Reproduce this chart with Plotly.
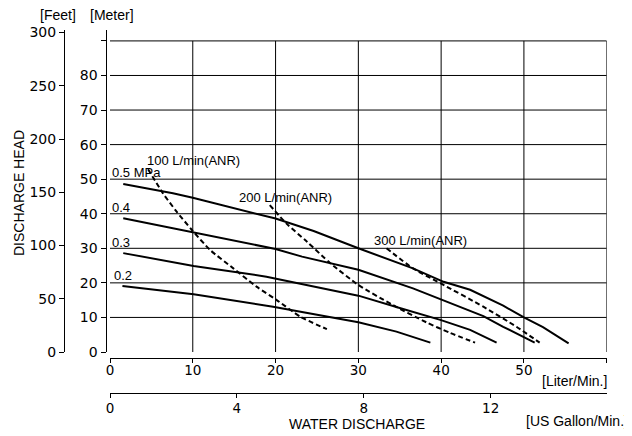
"""Discharge head vs. water discharge chart for an air-operated double diaphragm pump."""
import plotly.graph_objects as go

# Solid curves: supply air pressure (flow in L/min, head in m)
PRESSURE_NAMES = ["0.5 MPa", "0.4", "0.3", "0.2"]
FLOW_05 = [1.6, 7.6, 10.0, 20.0, 24.6, 30.0, 36.6, 40.3, 43.5, 47.5, 50.0, 52.3, 55.4]
HEAD_05 = [48.6, 45.9, 44.6, 38.6, 35.0, 30.0, 24.2, 20.3, 18.0, 13.4, 10.0, 7.2, 2.5]
FLOW_04 = [1.6, 8.7, 20.0, 23.2, 30.0, 36.6, 39.9, 45.1, 47.5, 51.3]
HEAD_04 = [38.7, 35.3, 29.8, 27.6, 23.8, 18.4, 15.3, 10.4, 7.3, 2.7]
FLOW_03 = [1.6, 10.1, 18.9, 24.6, 30.0, 35.2, 39.9, 43.5, 46.7]
HEAD_03 = [28.6, 24.9, 21.8, 18.9, 16.3, 12.6, 9.3, 6.4, 2.7]
FLOW_02 = [1.5, 10.1, 19.7, 26.6, 30.0, 34.6, 38.7]
HEAD_02 = [19.1, 16.7, 13.1, 10.2, 8.6, 5.9, 2.7]

# Dashed curves: air consumption
AIR_NAMES = ["100 L/min(ANR)", "200 L/min(ANR)", "300 L/min(ANR)"]
FLOW_AIR100 = [4.6, 6.4, 8.05, 9.9, 12.1, 14.9, 17.7, 20.1, 23.0, 26.2]
HEAD_AIR100 = [52.9, 45.9, 40.6, 35.3, 29.5, 24.2, 18.9, 15.1, 10.2, 6.6]
FLOW_AIR200 = [19.3, 21.3, 23.8, 26.6, 30.0, 34.0, 38.2, 41.0, 44.1]
HEAD_AIR200 = [42.5, 37.2, 31.9, 25.7, 19.4, 13.8, 8.6, 5.6, 2.7]
FLOW_AIR300 = [33.4, 36.6, 39.9, 45.1, 49.1, 51.9]
HEAD_AIR300 = [30.0, 24.2, 19.9, 13.1, 7.3, 2.7]

# Axes
LPM_TICKS = [0, 10, 20, 30, 40, 50, 60]
LPM_TICK_TEXT = ["0", "10", "20", "30", "40", "50", ""]
GPM_TICKS = [0, 4, 8, 12]
METER_TICKS = [0, 10, 20, 30, 40, 50, 60, 70, 80, 90]
METER_TICK_TEXT = ["0", "10", "20", "30", "40", "50", "60", "70", "80", ""]
FEET_TICKS = [0, 50, 100, 150, 200, 250, 300]

LITERS_PER_GALLON = 3.832  # as drawn on the original sheet
METER_TOP = 93.3
FEET_TOP = 302.9

# the page body keeps its default 8px margin, so the figure is shrunk by it
PAGE_PAD = 8
W, H = 632 - PAGE_PAD, 436 - PAGE_PAD
TEXT_FONT = "Liberation Sans, Arial, sans-serif"
TICK_FONT = dict(family="DejaVu Sans, sans-serif", size=14, color="black")
X_TICK_FONT = dict(family="DejaVu Sans, sans-serif", size=13.5, color="black")


def px_x(v):
    """Window pixel column -> paper fraction."""
    return (v - PAGE_PAD) / W


def px_y(v):
    """Window pixel row -> paper fraction."""
    return 1 - (v - PAGE_PAD) / H


fig = go.Figure()

solid = [
    (FLOW_05, HEAD_05),
    (FLOW_04, HEAD_04),
    (FLOW_03, HEAD_03),
    (FLOW_02, HEAD_02),
]
for name, (flow, head) in zip(PRESSURE_NAMES, solid):
    fig.add_trace(go.Scatter(x=flow, y=head, mode="lines", name=name,
                             line=dict(color="black", width=2)))

dashed = [
    (FLOW_AIR100, HEAD_AIR100),
    (FLOW_AIR200, HEAD_AIR200),
    (FLOW_AIR300, HEAD_AIR300),
]
for name, (flow, head) in zip(AIR_NAMES, dashed):
    fig.add_trace(go.Scatter(x=flow, y=head, mode="lines", name=name,
                             line=dict(color="black", width=2, dash="5px,3px"),
                             line_shape="spline", line_smoothing=0.6))

# keeps the secondary axes (US gallon, feet) alive
fig.add_trace(go.Scatter(x=[None], y=[None], xaxis="x2", yaxis="y2",
                         showlegend=False, hoverinfo="skip"))

# grid drawn inside the 0-60 L/min x 0-90 m box only
grid = dict(type="line", xref="x", yref="y", line=dict(color="black", width=1), layer="below")
for v in LPM_TICKS[1:]:
    fig.add_shape(x0=v, x1=v, y0=0, y1=METER_TICKS[-1], **grid)
for v in METER_TICKS[1:]:
    fig.add_shape(x0=0, x1=LPM_TICKS[-1], y0=v, y1=v, **grid)

axis_common = dict(showline=True, linecolor="black", linewidth=1, ticks="outside",
                   ticklen=5, tickcolor="black", tickwidth=1, showgrid=False,
                   zeroline=False, tickfont=TICK_FONT, automargin=False)
x_axis_common = {**axis_common, "ticklen": 4, "tickfont": X_TICK_FONT}

fig.update_layout(
    width=W,
    height=H,
    margin=dict(l=0, r=0, t=0, b=0, pad=0, autoexpand=False),
    paper_bgcolor="white",
    plot_bgcolor="white",
    showlegend=False,
    xaxis=dict(domain=[px_x(110), px_x(606.7)], range=[0, LPM_TICKS[-1]],
               anchor="free", position=px_y(357.7), tickvals=LPM_TICKS,
               ticktext=LPM_TICK_TEXT, ticklabelstandoff=-4, **x_axis_common),
    xaxis2=dict(overlaying="x", side="bottom", anchor="free", position=px_y(393.3),
                range=[0, LPM_TICKS[-1] / LITERS_PER_GALLON], tickvals=GPM_TICKS,
                ticklabelstandoff=-2, **x_axis_common),
    yaxis=dict(domain=[px_y(352), px_y(29.5)], range=[0, METER_TOP], anchor="free",
               position=px_x(105.5), tickvals=METER_TICKS, ticktext=METER_TICK_TEXT,
               **axis_common),
    yaxis2=dict(overlaying="y", side="left", anchor="free", position=px_x(64),
                range=[0, FEET_TOP], tickvals=FEET_TICKS, **axis_common),
)


def label(text, x, y, size=13, xref="x", yref="y", xanchor="left", angle=0):
    fig.add_annotation(text=text, x=x, y=y, xref=xref, yref=yref, xanchor=xanchor,
                       yanchor="middle", showarrow=False, textangle=angle,
                       font=dict(family=TEXT_FONT, size=size, color="black"))


# curve labels
label(PRESSURE_NAMES[0], 0.0, 51.8)
label(PRESSURE_NAMES[1], 0.0, 41.8)
label(PRESSURE_NAMES[2], 0.0, 31.8)
label(PRESSURE_NAMES[3], 0.2, 22.0)
label(AIR_NAMES[0], 4.2, 55.4)
label(AIR_NAMES[1], 15.3, 44.7)
label(AIR_NAMES[2], 31.6, 32.3)

# axis titles
label("[Feet]", px_x(58), px_y(15), size=14, xref="paper", yref="paper", xanchor="center")
label("[Meter]", px_x(112), px_y(15), size=14, xref="paper", yref="paper", xanchor="center")
label("[Liter/Min.]", px_x(609), px_y(381), size=14, xref="paper", yref="paper", xanchor="right")
label("[US Gallon/Min.]", px_x(630), px_y(421), size=14, xref="paper", yref="paper", xanchor="right")
label("WATER DISCHARGE", px_x(357), px_y(424), size=14, xref="paper", yref="paper", xanchor="center")
label("DISCHARGE HEAD", px_x(19), px_y(193), size=14, xref="paper", yref="paper",
      xanchor="center", angle=-90)

fig.write_html("out.html")
